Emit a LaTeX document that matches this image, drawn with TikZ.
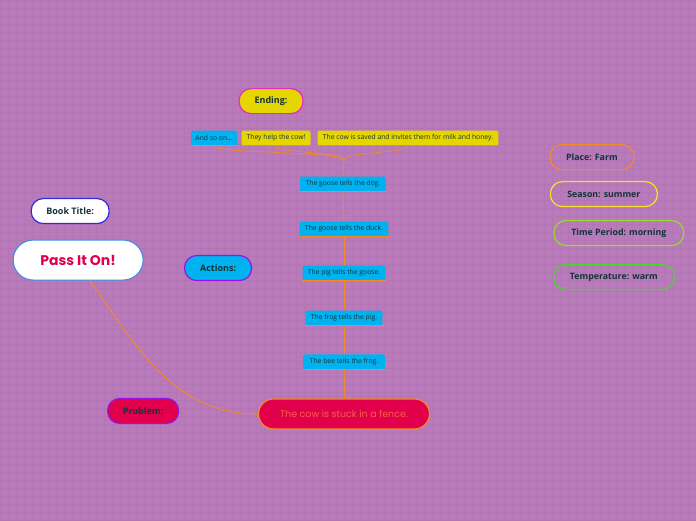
\documentclass[tikz,border=0pt]{standalone}
\usepackage{fontspec}
\setmainfont{Open Sans}
\newfontfamily\handfont{Poppins}
\usetikzlibrary{positioning}
\definecolor{bgpurple}{RGB}{184,122,184}
\definecolor{gridpurple}{RGB}{179,117,181}
\definecolor{inkgreen}{RGB}{18,52,56}
\definecolor{sunyellow}{RGB}{230,214,0}
\definecolor{skyblue}{RGB}{0,178,240}
\definecolor{crimson}{RGB}{226,0,76}
\definecolor{linkorange}{RGB}{240,140,40}
\definecolor{hotpink}{RGB}{232,40,200}
\definecolor{violet}{RGB}{150,20,230}
\definecolor{royalblue}{RGB}{50,40,220}
\definecolor{capblue}{RGB}{60,140,230}
\definecolor{lemon}{RGB}{245,225,40}
\definecolor{limegreen}{RGB}{150,220,40}
\definecolor{leafgreen}{RGB}{70,215,40}
\definecolor{coral}{RGB}{246,96,70}
\tikzset{
  pill/.style={draw,line width=1.2pt,rounded corners=12pt,minimum height=25pt,
    font=\bfseries\fontsize{9}{10}\selectfont,text=inkgreen,inner sep=0pt},
  leaf/.style={rounded corners=1.5pt,minimum height=15pt,inner sep=0pt,
    font=\fontsize{6.8}{7}\selectfont,text=inkgreen},
  fact/.style={draw,line width=1.2pt,rounded corners=12pt,minimum height=25pt,
    font=\bfseries\fontsize{8.8}{10}\selectfont,text=inkgreen,inner sep=0pt},
  link/.style={draw=linkorange,line width=0.9pt}
}
\begin{document}
\begin{tikzpicture}[x=1pt,y=1pt]
  % background
  \fill[bgpurple] (0,0) rectangle (696,520);
  \draw[gridpurple,line width=0.4pt,step=8pt] (0,0) grid (696,520);
  \useasboundingbox (0,0) rectangle (696,520);

  % ending
  \node[pill,draw=hotpink,fill=sunyellow,minimum width=64pt] (ending) at (271,419) {Ending:};
  \node[leaf,fill=skyblue,minimum width=46pt] (andso) at (214,382) {And so on...};
  \node[leaf,fill=sunyellow,minimum width=69pt] (help) at (276,382) {They help the cow!};
  \node[leaf,fill=sunyellow,minimum width=181pt] (saved) at (408,382) {The cow is saved and invites them for milk and honey.};

  % actions
  \node[pill,draw=violet,fill=skyblue,minimum width=67pt] (actions) at (218,252) {Actions:};
  \node[leaf,fill=skyblue,minimum width=86pt] (dog) at (343,336) {The goose tells the dog.};
  \node[leaf,fill=skyblue,minimum width=89pt] (duck) at (344,291) {The goose tells the duck.};
  \node[leaf,fill=skyblue,minimum width=83pt] (pig) at (344,247) {The pig tells the goose.};
  \node[leaf,fill=skyblue,minimum width=77pt] (frog) at (344,202) {The frog tells the pig.};
  \node[leaf,fill=skyblue,minimum width=82pt] (bee) at (344,158) {The bee tells the frog.};

  % title and problem
  \node[pill,draw=royalblue,fill=white,minimum width=78pt] (booktitle) at (70,309) {Book Title:};
  \node[draw=capblue,line width=1pt,fill=white,rounded corners=20pt,minimum width=130pt,
    minimum height=40pt,font=\handfont\bfseries\fontsize{14}{16}\selectfont,text=crimson] (title) at (78,260) {Pass It On!};
  \node[pill,draw=violet,fill=crimson,minimum width=71pt] (problem) at (143,109) {Problem:};
  \node[draw=linkorange,line width=1.2pt,fill=crimson,rounded corners=15pt,minimum width=171pt,
    minimum height=30pt,font=\handfont\fontsize{9.5}{11}\selectfont,text=coral] (cow) at (344,106) {The cow is stuck in a fence.};

  % setting
  \node[fact,draw=linkorange,minimum width=84pt] (place) at (592,363) {Place: Farm};
  \node[fact,draw=lemon,minimum width=107pt] (season) at (604,326) {Season: summer};
  \node[fact,draw=limegreen,minimum width=130pt] (period) at (619,287) {Time Period: morning};
  \node[fact,draw=leafgreen,minimum width=121pt] (temp) at (614,243) {Temperature: warm};

  % connectors
  \coordinate (jn) at (344,360);
  \foreach \n in {andso,help,saved,dog,duck,pig,frog,bee}
    \draw[link,line width=1.2pt] (\n.south west) -- (\n.south east);
  \draw[link] (cow.north) -- (bee.south);
  \draw[link] (bee.north) -- (frog.south);
  \draw[link] (frog.north) -- (pig.south);
  \draw[link] (pig.north) -- (duck.south);
  \draw[link] (duck.north) -- (dog.south);
  \draw[link] (dog.north) -- (jn);
  \foreach \n in {andso,help,saved}
    \draw[link,line width=0.7pt] (jn) .. controls +(0,9) and +(0,-8) .. (\n.south);
  \draw[link] (title.-60) to[out=-55,in=180] (cow.west);
\end{tikzpicture}
\end{document}
